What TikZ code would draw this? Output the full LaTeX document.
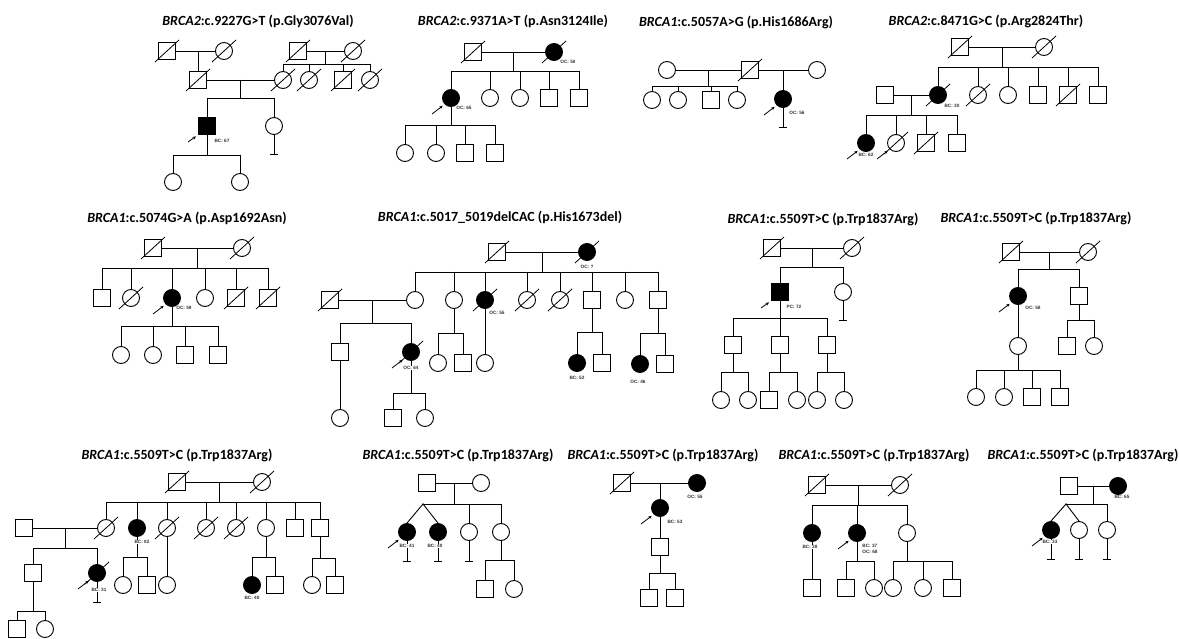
\documentclass[tikz,border=0pt]{standalone}
\usepackage{fontspec}
\setmainfont{Carlito}
\newfontfamily\labfont{Liberation Sans}
\usetikzlibrary{calc,arrows.meta}
\tikzset{
  ind/.style={draw=black,line width=0.9pt,minimum size=17pt,inner sep=0pt,fill=white},
  male/.style={ind,rectangle},
  fem/.style={ind,circle},
  maleA/.style={male,fill=black},
  femA/.style={fem,fill=black},
  ln/.style={line width=0.9pt,line cap=rect},
  lab/.style={font=\labfont\bfseries\fontsize{4.7}{5.8}\selectfont,inner sep=0.4pt,fill=white,text=black!80,align=left},
  ttl/.style={font=\bfseries\fontsize{14}{16}\selectfont,inner sep=0pt},
  parr/.style={line width=0.8pt,-{Stealth[length=3.5pt,width=3pt]},shorten >=2.5pt}
}
\newcommand\pI[4]{\node[#1] (#2) at (#3,#4) {};}
\newcommand\pDec[1]{\draw[line width=0.8pt] ($(#1.center)+(-12,11)$) -- ($(#1.center)+(12,-11)$);}
\newcommand\pMar[3]{\draw[ln] (#1) -- (#2); \coordinate (#3) at ($(#1)!0.5!(#2)$);}
\newcommand\pSib[5]{%
  \coordinate (sy) at (0,#2);
  \draw[ln] (#1) -- (#1 |- sy);
  \draw[ln] (#3 |- sy) -- (#4 |- sy);
  \foreach \c in {#5}{\draw[ln] (\c |- sy) -- (\c.north);}
}
\newcommand\pNo[1]{\coordinate (#1-t) at ($(#1.south)+(0,20)$); \draw[ln] (#1) -- (#1-t); \draw[ln] ($(#1-t)+(-3.5,0)$) -- ($(#1-t)+(3.5,0)$);}
\newcommand\pPro[1]{\coordinate (#1-a) at ($(#1.center)+(-19,16)$); \draw[parr] (#1-a) -- (#1.south west);}
\begin{document}
\begin{tikzpicture}[x=1pt,y=-1pt]
\useasboundingbox[fill=white] (0,0) rectangle (1179,639);
% ---------- titles
\node[ttl] (t1) at (258,21) {\textit{BRCA2}:c.9227G>T (p.Gly3076Val)};
\node[ttl] (t2) at (513,21) {\textit{BRCA2}:c.9371A>T (p.Asn3124Ile)};
\node[ttl] (t3) at (736,22) {\textit{BRCA1}:c.5057A>G (p.His1686Arg)};
\node[ttl] (t4) at (986,21) {\textit{BRCA2}:c.8471G>C (p.Arg2824Thr)};
\node[ttl] (t5) at (187,218) {\textit{BRCA1}:c.5074G>A (p.Asp1692Asn)};
\node[ttl] (t6) at (500,217) {\textit{BRCA1}:c.5017\_5019delCAC (p.His1673del)};
\node[ttl] (t7) at (823,219) {\textit{BRCA1}:c.5509T>C (p.Trp1837Arg)};
\node[ttl] (t8) at (1036,218) {\textit{BRCA1}:c.5509T>C (p.Trp1837Arg)};
\node[ttl] (t9) at (177,455) {\textit{BRCA1}:c.5509T>C (p.Trp1837Arg)};
\node[ttl] (t10) at (458,455) {\textit{BRCA1}:c.5509T>C (p.Trp1837Arg)};
\node[ttl] (t11) at (663,455) {\textit{BRCA1}:c.5509T>C (p.Trp1837Arg)};
\node[ttl] (t12) at (874,455) {\textit{BRCA1}:c.5509T>C (p.Trp1837Arg)};
\node[ttl] (t13) at (1083,455) {\textit{BRCA1}:c.5509T>C (p.Trp1837Arg)};
% ---------- P1
\pI{male}{a1}{167}{51} \pI{fem}{a2}{224}{51}
\pI{male}{a3}{198}{80}
\pI{male}{a4}{298}{51} \pI{fem}{a5}{353}{51}
\pI{fem}{a6}{283}{80} \pI{fem}{a7}{309}{80} \pI{male}{a8}{343}{80} \pI{fem}{a9}{370}{80}
\pI{maleA}{a10}{207}{126} \pI{fem}{a11}{274}{126}
\pI{fem}{a13}{173}{182} \pI{fem}{a14}{240}{182}
\pMar{a1}{a2}{am1} \draw[ln] (a3) -- (a3 |- am1);
\pMar{a4}{a5}{am2} \pSib{am2}{64}{a6}{a9}{a6,a7,a8,a9}
\pMar{a3}{a6}{am3} \pSib{am3}{98}{a10}{a11}{a10,a11}
\pSib{a10}{155}{a13}{a14}{a13,a14}
\pNo{a11} \pPro{a10}
\foreach \n in {a1,a2,a3,a4,a5,a6,a7,a8,a9} {\pDec{\n}}
\node[lab] (a10l) at (222,141) {BC: 67};
% ---------- P2
\pI{male}{b1}{473}{52} \pI{femA}{b2}{554}{52}
\pI{femA}{b3}{451}{98} \pI{fem}{b4}{490}{98} \pI{fem}{b5}{520}{98} \pI{male}{b6}{549}{98} \pI{male}{b7}{579}{98}
\pI{fem}{b8}{405}{153} \pI{fem}{b9}{436}{153} \pI{male}{b10}{465}{153} \pI{male}{b11}{495}{153}
\pMar{b1}{b2}{bm1} \pSib{bm1}{71}{b3}{b7}{b3,b4,b5,b6,b7}
\pSib{b3}{125}{b8}{b11}{b8,b9,b10,b11}
\pDec{b1} \pDec{b2} \pPro{b3}
\node[lab] (b2l) at (568,62) {OC: 50};
\node[lab] (b3l) at (464,108) {OC: 65};
% ---------- P3
\pI{fem}{c1}{667}{70} \pI{male}{c2}{750}{70} \pI{fem}{c3}{817}{70}
\pI{fem}{c4}{652}{100} \pI{fem}{c5}{678}{100} \pI{male}{c6}{711}{100} \pI{fem}{c7}{737}{100}
\pI{femA}{c8}{783}{99}
\pMar{c1}{c2}{cm1} \pSib{cm1}{86}{c4}{c7}{c4,c5,c6,c7}
\pMar{c2}{c3}{cm2} \draw[ln] (c8) -- (c8 |- cm2);
\pDec{c2} \pPro{c8} \pNo{c8}
\node[lab] (c8l) at (797,113) {OC: 56};
% ---------- P4
\pI{male}{d1}{960}{47} \pI{fem}{d2}{1044}{47}
\pI{femA}{d3}{938}{95} \pI{fem}{d4}{978}{95} \pI{fem}{d5}{1008}{95} \pI{male}{d6}{1038}{95} \pI{male}{d7}{1068}{95} \pI{male}{d8}{1098}{95}
\pI{male}{d9}{885}{95}
\pI{femA}{d10}{866}{143} \pI{fem}{d11}{896}{143} \pI{male}{d12}{926}{143} \pI{male}{d13}{957}{143}
\pMar{d1}{d2}{dm1} \pSib{dm1}{67}{d3}{d8}{d3,d4,d5,d6,d7,d8}
\pMar{d9}{d3}{dm2} \pSib{dm2}{115}{d10}{d13}{d10,d11,d12,d13}
\foreach \n in {d1,d2,d3,d4,d7,d11,d12} {\pDec{\n}}
\pPro{d10} \pPro{d11}
\node[lab] (d3l) at (952,106) {BC: 30};
\node[lab] (d10l) at (866,155) {BC: 62};
% ---------- P5
\pI{male}{e1}{153}{248} \pI{fem}{e2}{242}{248}
\pI{male}{e3}{102}{298} \pI{fem}{e4}{131}{298} \pI{femA}{e5}{172}{298} \pI{fem}{e6}{205}{298} \pI{male}{e7}{236}{298} \pI{male}{e8}{268}{298}
\pI{fem}{e9}{121}{355} \pI{fem}{e10}{153}{355} \pI{male}{e11}{185}{355} \pI{male}{e12}{218}{355}
\pMar{e1}{e2}{em1} \pSib{em1}{268}{e3}{e8}{e3,e4,e5,e6,e7,e8}
\pSib{e5}{326}{e9}{e12}{e9,e10,e11,e12}
\foreach \n in {e1,e2,e4,e7,e8} {\pDec{\n}}
\pPro{e5}
\node[lab] (e5l) at (184,308) {OC: 59};
% ---------- P6
\pI{male}{f1}{497}{252} \pI{femA}{f2}{587}{252}
\pI{fem}{f3}{415}{300} \pI{fem}{f4}{454}{300} \pI{femA}{f5}{485}{300} \pI{fem}{f6}{527}{300} \pI{fem}{f7}{560}{300} \pI{male}{f8}{592}{300} \pI{fem}{f9}{625}{300} \pI{male}{f10}{658}{300}
\pI{male}{f11}{330}{300}
\pI{male}{f12}{340}{352} \pI{femA}{f13}{411}{352}
\pI{fem}{f14}{340}{418} \pI{male}{f15}{393}{418} \pI{fem}{f16}{425}{418}
\pI{fem}{f17}{438}{363} \pI{male}{f18}{463}{363}
\pI{fem}{f19}{485}{363}
\pI{femA}{f20}{577}{363} \pI{male}{f21}{602}{363}
\pI{femA}{f22}{640}{364} \pI{male}{f23}{665}{364}
\pMar{f1}{f2}{fm1} \pSib{fm1}{272}{f3}{f10}{f3,f4,f5,f6,f7,f8,f9,f10}
\pMar{f11}{f3}{fm2} \pSib{fm2}{323}{f12}{f13}{f12,f13}
\draw[ln] (f12) -- (f14);
\pSib{f13}{393}{f15}{f16}{f15,f16}
\pSib{f4}{333}{f17}{f18}{f17,f18}
\draw[ln] (f5) -- (f19);
\pSib{f8}{332}{f20}{f21}{f20,f21}
\pSib{f10}{333}{f22}{f23}{f22,f23}
\foreach \n in {f1,f2,f5,f6,f7,f11,f13} {\pDec{\n}}
\pPro{f13}
\node[lab] (f2l) at (587,267) {OC: ?};
\node[lab] (f5l) at (497,313) {OC: 55};
\node[lab] (f13l) at (411,368) {OC: 64};
\node[lab] (f20l) at (577,378) {BC: 52};
\node[lab] (f22l) at (638,382) {OC: 46};
% ---------- P7
\pI{male}{g1}{772}{248} \pI{fem}{g2}{852}{248}
\pI{maleA}{g3}{780}{292} \pI{fem}{g4}{843}{292}
\pI{male}{g5}{733}{345} \pI{male}{g6}{780}{345} \pI{male}{g7}{827}{345}
\pI{fem}{g8}{721}{400} \pI{fem}{g9}{748}{400} \pI{male}{g10}{769}{400} \pI{fem}{g11}{797}{400} \pI{fem}{g12}{817}{400} \pI{fem}{g13}{844}{400}
\pMar{g1}{g2}{gm1} \pSib{gm1}{267}{g3}{g4}{g3,g4}
\pSib{g3}{318}{g5}{g7}{g5,g6,g7}
\pSib{g5}{372}{g8}{g9}{g8,g9}
\pSib{g6}{372}{g10}{g11}{g10,g11}
\pSib{g7}{372}{g12}{g13}{g12,g13}
\pDec{g1} \pDec{g2} \pPro{g3} \pNo{g4}
\node[lab] (g3l) at (794,307) {PC: 72};
% ---------- P8
\pI{male}{h1}{1011}{252} \pI{fem}{h2}{1088}{252}
\pI{femA}{h3}{1018}{296} \pI{male}{h4}{1079}{296}
\pI{fem}{h5}{1018}{346}
\pI{fem}{h6}{976}{397} \pI{fem}{h7}{1004}{397} \pI{male}{h8}{1032}{397} \pI{male}{h9}{1060}{397}
\pI{male}{h10}{1067}{346} \pI{fem}{h11}{1094}{346}
\pMar{h1}{h2}{hm1} \pSib{hm1}{269}{h3}{h4}{h3,h4}
\draw[ln] (h3) -- (h5);
\pSib{h5}{370}{h6}{h9}{h6,h7,h8,h9}
\pSib{h4}{320}{h10}{h11}{h10,h11}
\pDec{h1} \pDec{h2} \pPro{h3}
\node[lab] (h3l) at (1033,308) {OC: 58};
% ---------- P9
\pI{male}{i1}{177}{482} \pI{fem}{i2}{262}{482}
\pI{fem}{i3}{106}{528} \pI{femA}{i4}{137}{528} \pI{fem}{i5}{167}{528} \pI{fem}{i6}{206}{528} \pI{fem}{i7}{236}{528} \pI{fem}{i8}{266}{528} \pI{male}{i9}{295}{528} \pI{male}{i10}{320}{528}
\pI{male}{i11}{24}{528}
\pI{male}{i12}{33}{573} \pI{femA}{i13}{97}{573}
\pI{male}{i14}{17}{629} \pI{fem}{i15}{45}{629}
\pI{fem}{i16}{123}{585} \pI{male}{i17}{147}{585}
\pI{fem}{i18}{167}{585}
\pI{femA}{i19}{252}{585} \pI{male}{i20}{275}{585}
\pI{fem}{i21}{312}{585} \pI{male}{i22}{335}{585}
\pMar{i1}{i2}{im1} \pSib{im1}{502}{i3}{i10}{i3,i4,i5,i6,i7,i8,i9,i10}
\pMar{i11}{i3}{im2} \pSib{im2}{548}{i12}{i13}{i12,i13}
\pSib{i12}{611}{i14}{i15}{i14,i15}
\pSib{i4}{557}{i16}{i17}{i16,i17}
\draw[ln] (i5) -- (i18);
\pSib{i8}{557}{i19}{i20}{i19,i20}
\pSib{i10}{558}{i21}{i22}{i21,i22}
\foreach \n in {i1,i2,i3,i5,i6,i7,i13} {\pDec{\n}}
\pNo{i13} \pPro{i13}
\node[lab] (i13l) at (99,590) {BC: 31};
\node[lab] (i4l) at (142,542) {BC: 82};
\node[lab] (i19l) at (252,598) {BC: 40};
% ---------- P10
\pI{male}{j1}{427}{483} \pI{fem}{j2}{481}{483}
\pI{femA}{j3}{407}{532} \pI{femA}{j4}{438}{532} \pI{fem}{j5}{469}{532} \pI{fem}{j6}{501}{532}
\pI{male}{j7}{485}{589} \pI{fem}{j8}{514}{589}
\pMar{j1}{j2}{jm1}
\coordinate (jtw) at (423,504);
\draw[ln] (jm1) -- (jm1 |- jtw);
\draw[ln] (jtw) -- (j6 |- jtw);
\draw[ln] (jtw) -- (j3.north);
\draw[ln] (jtw) -- (j4.north);
\draw[ln] (j5 |- jtw) -- (j5);
\draw[ln] (j6 |- jtw) -- (j6);
\pNo{j3} \pNo{j4} \pNo{j5}
\pSib{j6}{560}{j7}{j8}{j7,j8}
\pPro{j3}
\node[lab] (j3l) at (407,546) {BC: 41};
\node[lab] (j4l) at (435,546) {BC: 40};
% ---------- P11
\pI{male}{k1}{622}{483} \pI{femA}{k2}{697}{483}
\pI{femA}{k3}{660}{508} \pI{male}{k4}{660}{547}
\pI{male}{k5}{649}{598} \pI{male}{k6}{675}{598}
\pMar{k1}{k2}{km1}
\draw[ln] (k3) -- (k3 |- km1);
\draw[ln] (k3) -- (k4);
\pSib{k4}{573}{k5}{k6}{k5,k6}
\pDec{k1} \pPro{k3}
\node[lab] (k2l) at (695,497) {OC: 55};
\node[lab] (k3l) at (675,522) {BC: 53};
% ---------- P12
\pI{male}{l1}{817}{485} \pI{fem}{l2}{900}{485}
\pI{femA}{l3}{812}{533} \pI{femA}{l4}{857}{533} \pI{fem}{l5}{907}{533}
\pI{male}{l6}{812}{588}
\pI{male}{l7}{846}{588} \pI{fem}{l8}{874}{588}
\pI{fem}{l9}{893}{588} \pI{fem}{l10}{923}{588} \pI{male}{l11}{952}{588}
\pMar{l1}{l2}{lm1} \pSib{lm1}{505}{l3}{l5}{l3,l4,l5}
\draw[ln] (l3) -- (l6);
\pSib{l4}{561}{l7}{l8}{l7,l8}
\pSib{l5}{561}{l9}{l11}{l9,l10,l11}
\pDec{l1} \pDec{l2} \pPro{l4}
\node[lab] (l3l) at (810,547) {BC: 38};
\node[lab] (l4l) at (870,549) {BC: 37\\OC: 68};
% ---------- P13
\pI{male}{m1}{1069}{486} \pI{femA}{m2}{1118}{486}
\pI{femA}{m3}{1051}{530} \pI{fem}{m4}{1079}{530} \pI{fem}{m5}{1107}{530}
\pMar{m1}{m2}{mm1}
\coordinate (mtw) at (1066,504);
\draw[ln] (mm1) -- (mm1 |- mtw);
\draw[ln] (mtw) -- (m5 |- mtw);
\draw[ln] (mtw) -- (m3.north);
\draw[ln] (mtw) -- (m4.north);
\draw[ln] (m5 |- mtw) -- (m5);
\pNo{m3} \pNo{m4} \pNo{m5}
\pPro{m3}
\node[lab] (m2l) at (1122,497) {BC: 65};
\node[lab] (m3l) at (1050,542) {BC: 33};
\end{tikzpicture}
\end{document}
